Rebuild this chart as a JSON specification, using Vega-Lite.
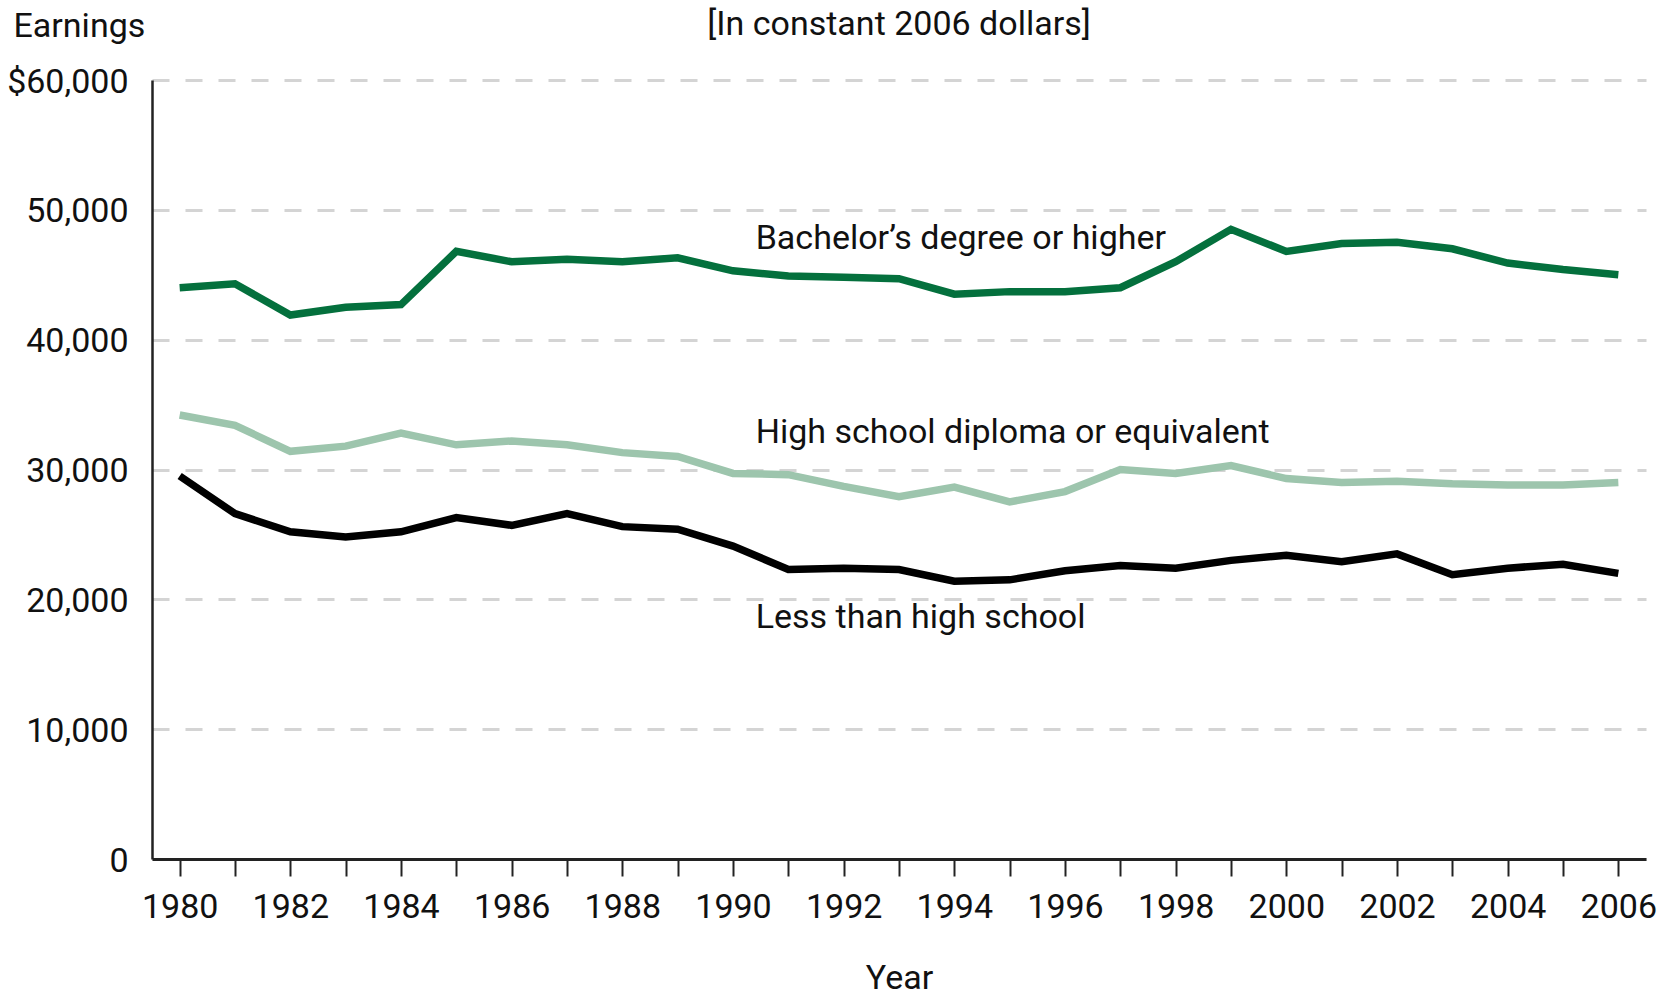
{
  "$schema": "https://vega.github.io/schema/vega-lite/v6.json",
  "width": 1494,
  "height": 779,
  "autosize": {"type": "none"},
  "padding": {"left": 152, "top": 80, "right": 25, "bottom": 136},
  "background": "white",
  "config": {"view": {"stroke": null}, "font": "Roboto"},
  "title": {
    "text": "[In constant 2006 dollars]",
    "fontSize": 34,
    "fontWeight": "normal",
    "font": "Roboto",
    "color": "#111111",
    "anchor": "middle",
    "frame": "group",
    "baseline": "alphabetic",
    "offset": -60
  },
  "datasets": {
    "earnings": [
      {"year": 1980, "series": "Bachelor’s degree or higher", "earnings": 44000},
      {"year": 1981, "series": "Bachelor’s degree or higher", "earnings": 44300},
      {"year": 1982, "series": "Bachelor’s degree or higher", "earnings": 41900},
      {"year": 1983, "series": "Bachelor’s degree or higher", "earnings": 42500},
      {"year": 1984, "series": "Bachelor’s degree or higher", "earnings": 42700},
      {"year": 1985, "series": "Bachelor’s degree or higher", "earnings": 46800},
      {"year": 1986, "series": "Bachelor’s degree or higher", "earnings": 46000},
      {"year": 1987, "series": "Bachelor’s degree or higher", "earnings": 46200},
      {"year": 1988, "series": "Bachelor’s degree or higher", "earnings": 46000},
      {"year": 1989, "series": "Bachelor’s degree or higher", "earnings": 46300},
      {"year": 1990, "series": "Bachelor’s degree or higher", "earnings": 45300},
      {"year": 1991, "series": "Bachelor’s degree or higher", "earnings": 44900},
      {"year": 1992, "series": "Bachelor’s degree or higher", "earnings": 44800},
      {"year": 1993, "series": "Bachelor’s degree or higher", "earnings": 44700},
      {"year": 1994, "series": "Bachelor’s degree or higher", "earnings": 43500},
      {"year": 1995, "series": "Bachelor’s degree or higher", "earnings": 43700},
      {"year": 1996, "series": "Bachelor’s degree or higher", "earnings": 43700},
      {"year": 1997, "series": "Bachelor’s degree or higher", "earnings": 44000},
      {"year": 1998, "series": "Bachelor’s degree or higher", "earnings": 46000},
      {"year": 1999, "series": "Bachelor’s degree or higher", "earnings": 48500},
      {"year": 2000, "series": "Bachelor’s degree or higher", "earnings": 46800},
      {"year": 2001, "series": "Bachelor’s degree or higher", "earnings": 47400},
      {"year": 2002, "series": "Bachelor’s degree or higher", "earnings": 47500},
      {"year": 2003, "series": "Bachelor’s degree or higher", "earnings": 47000},
      {"year": 2004, "series": "Bachelor’s degree or higher", "earnings": 45900},
      {"year": 2005, "series": "Bachelor’s degree or higher", "earnings": 45400},
      {"year": 2006, "series": "Bachelor’s degree or higher", "earnings": 45000},
      {"year": 1980, "series": "High school diploma or equivalent", "earnings": 34200},
      {"year": 1981, "series": "High school diploma or equivalent", "earnings": 33400},
      {"year": 1982, "series": "High school diploma or equivalent", "earnings": 31400},
      {"year": 1983, "series": "High school diploma or equivalent", "earnings": 31800},
      {"year": 1984, "series": "High school diploma or equivalent", "earnings": 32800},
      {"year": 1985, "series": "High school diploma or equivalent", "earnings": 31900},
      {"year": 1986, "series": "High school diploma or equivalent", "earnings": 32200},
      {"year": 1987, "series": "High school diploma or equivalent", "earnings": 31900},
      {"year": 1988, "series": "High school diploma or equivalent", "earnings": 31300},
      {"year": 1989, "series": "High school diploma or equivalent", "earnings": 31000},
      {"year": 1990, "series": "High school diploma or equivalent", "earnings": 29700},
      {"year": 1991, "series": "High school diploma or equivalent", "earnings": 29600},
      {"year": 1992, "series": "High school diploma or equivalent", "earnings": 28700},
      {"year": 1993, "series": "High school diploma or equivalent", "earnings": 27900},
      {"year": 1994, "series": "High school diploma or equivalent", "earnings": 28650},
      {"year": 1995, "series": "High school diploma or equivalent", "earnings": 27500},
      {"year": 1996, "series": "High school diploma or equivalent", "earnings": 28300},
      {"year": 1997, "series": "High school diploma or equivalent", "earnings": 30000},
      {"year": 1998, "series": "High school diploma or equivalent", "earnings": 29700},
      {"year": 1999, "series": "High school diploma or equivalent", "earnings": 30300},
      {"year": 2000, "series": "High school diploma or equivalent", "earnings": 29300},
      {"year": 2001, "series": "High school diploma or equivalent", "earnings": 29000},
      {"year": 2002, "series": "High school diploma or equivalent", "earnings": 29100},
      {"year": 2003, "series": "High school diploma or equivalent", "earnings": 28900},
      {"year": 2004, "series": "High school diploma or equivalent", "earnings": 28800},
      {"year": 2005, "series": "High school diploma or equivalent", "earnings": 28800},
      {"year": 2006, "series": "High school diploma or equivalent", "earnings": 29000},
      {"year": 1980, "series": "Less than high school", "earnings": 29500},
      {"year": 1981, "series": "Less than high school", "earnings": 26600},
      {"year": 1982, "series": "Less than high school", "earnings": 25200},
      {"year": 1983, "series": "Less than high school", "earnings": 24800},
      {"year": 1984, "series": "Less than high school", "earnings": 25200},
      {"year": 1985, "series": "Less than high school", "earnings": 26300},
      {"year": 1986, "series": "Less than high school", "earnings": 25700},
      {"year": 1987, "series": "Less than high school", "earnings": 26600},
      {"year": 1988, "series": "Less than high school", "earnings": 25600},
      {"year": 1989, "series": "Less than high school", "earnings": 25400},
      {"year": 1990, "series": "Less than high school", "earnings": 24100},
      {"year": 1991, "series": "Less than high school", "earnings": 22300},
      {"year": 1992, "series": "Less than high school", "earnings": 22400},
      {"year": 1993, "series": "Less than high school", "earnings": 22300},
      {"year": 1994, "series": "Less than high school", "earnings": 21400},
      {"year": 1995, "series": "Less than high school", "earnings": 21500},
      {"year": 1996, "series": "Less than high school", "earnings": 22200},
      {"year": 1997, "series": "Less than high school", "earnings": 22600},
      {"year": 1998, "series": "Less than high school", "earnings": 22400},
      {"year": 1999, "series": "Less than high school", "earnings": 23000},
      {"year": 2000, "series": "Less than high school", "earnings": 23400},
      {"year": 2001, "series": "Less than high school", "earnings": 22900},
      {"year": 2002, "series": "Less than high school", "earnings": 23500},
      {"year": 2003, "series": "Less than high school", "earnings": 21900},
      {"year": 2004, "series": "Less than high school", "earnings": 22400},
      {"year": 2005, "series": "Less than high school", "earnings": 22700},
      {"year": 2006, "series": "Less than high school", "earnings": 22000}
    ],
    "labels": [
      {"year": 1990.41, "earnings": 47000, "label": "Bachelor’s degree or higher"},
      {"year": 1990.41, "earnings": 32068, "label": "High school diploma or equivalent"},
      {"year": 1990.41, "earnings": 17821, "label": "Less than high school"}
    ]
  },
  "encoding": {
    "x": {
      "field": "year",
      "type": "quantitative",
      "scale": {"domain": [1979.5, 2006.5], "nice": false, "zero": false},
      "axis": {
        "title": "Year",
        "values": [1980, 1981, 1982, 1983, 1984, 1985, 1986, 1987, 1988, 1989, 1990, 1991, 1992, 1993, 1994, 1995, 1996, 1997, 1998, 1999, 2000, 2001, 2002, 2003, 2004, 2005, 2006],
        "labelExpr": "datum.value % 2 == 0 ? format(datum.value, 'd') : ''",
        "grid": false,
        "ticks": true,
        "tickSize": 17,
        "tickWidth": 2,
        "tickColor": "#222222",
        "domainColor": "#222222",
        "domainWidth": 3,
        "labelFont": "Roboto",
        "labelFontSize": 34,
        "labelColor": "#111111",
        "labelPadding": 14,
        "labelOverlap": false,
        "labelFlush": false,
        "labelBound": false,
        "titleFont": "Roboto",
        "titleFontSize": 34,
        "titleFontWeight": "normal",
        "titleColor": "#111111",
        "titleBaseline": "alphabetic",
        "titleY": 129
      }
    },
    "y": {
      "field": "earnings",
      "type": "quantitative",
      "scale": {"domain": [0, 60000], "nice": false},
      "axis": {
        "title": "Earnings",
        "values": [0, 10000, 20000, 30000, 40000, 50000, 60000],
        "labelExpr": "datum.value == 60000 ? '$60,000' : format(datum.value, ',d')",
        "ticks": false,
        "tickSize": 0,
        "grid": true,
        "gridDash": [17, 16],
        "gridColor": "#d4d4d4",
        "gridWidth": 3,
        "domainColor": "#222222",
        "domainWidth": 2.5,
        "labelFont": "Roboto",
        "labelFontSize": 34,
        "labelColor": "#111111",
        "labelPadding": 24,
        "labelOffset": 2,
        "labelBound": false,
        "labelFlush": false,
        "titleFont": "Roboto",
        "titleFontSize": 34,
        "titleFontWeight": "normal",
        "titleColor": "#111111",
        "titleAngle": 0,
        "titleAlign": "left",
        "titleBaseline": "alphabetic",
        "titleX": -139,
        "titleY": -44
      }
    }
  },
  "layer": [
    {
      "data": {"name": "earnings"},
      "mark": {"type": "line", "strokeWidth": 7.5},
      "encoding": {
        "color": {
          "field": "series",
          "type": "nominal",
          "scale": {
            "domain": ["Bachelor’s degree or higher", "High school diploma or equivalent", "Less than high school"],
            "range": ["#04703d", "#9dc5ad", "#000000"]
          },
          "legend": null
        }
      }
    },
    {
      "data": {"name": "labels"},
      "mark": {"type": "text", "align": "left", "baseline": "alphabetic", "font": "Roboto", "fontSize": 34, "color": "#111111"},
      "encoding": {
        "text": {"field": "label", "type": "nominal"}
      }
    }
  ]
}
